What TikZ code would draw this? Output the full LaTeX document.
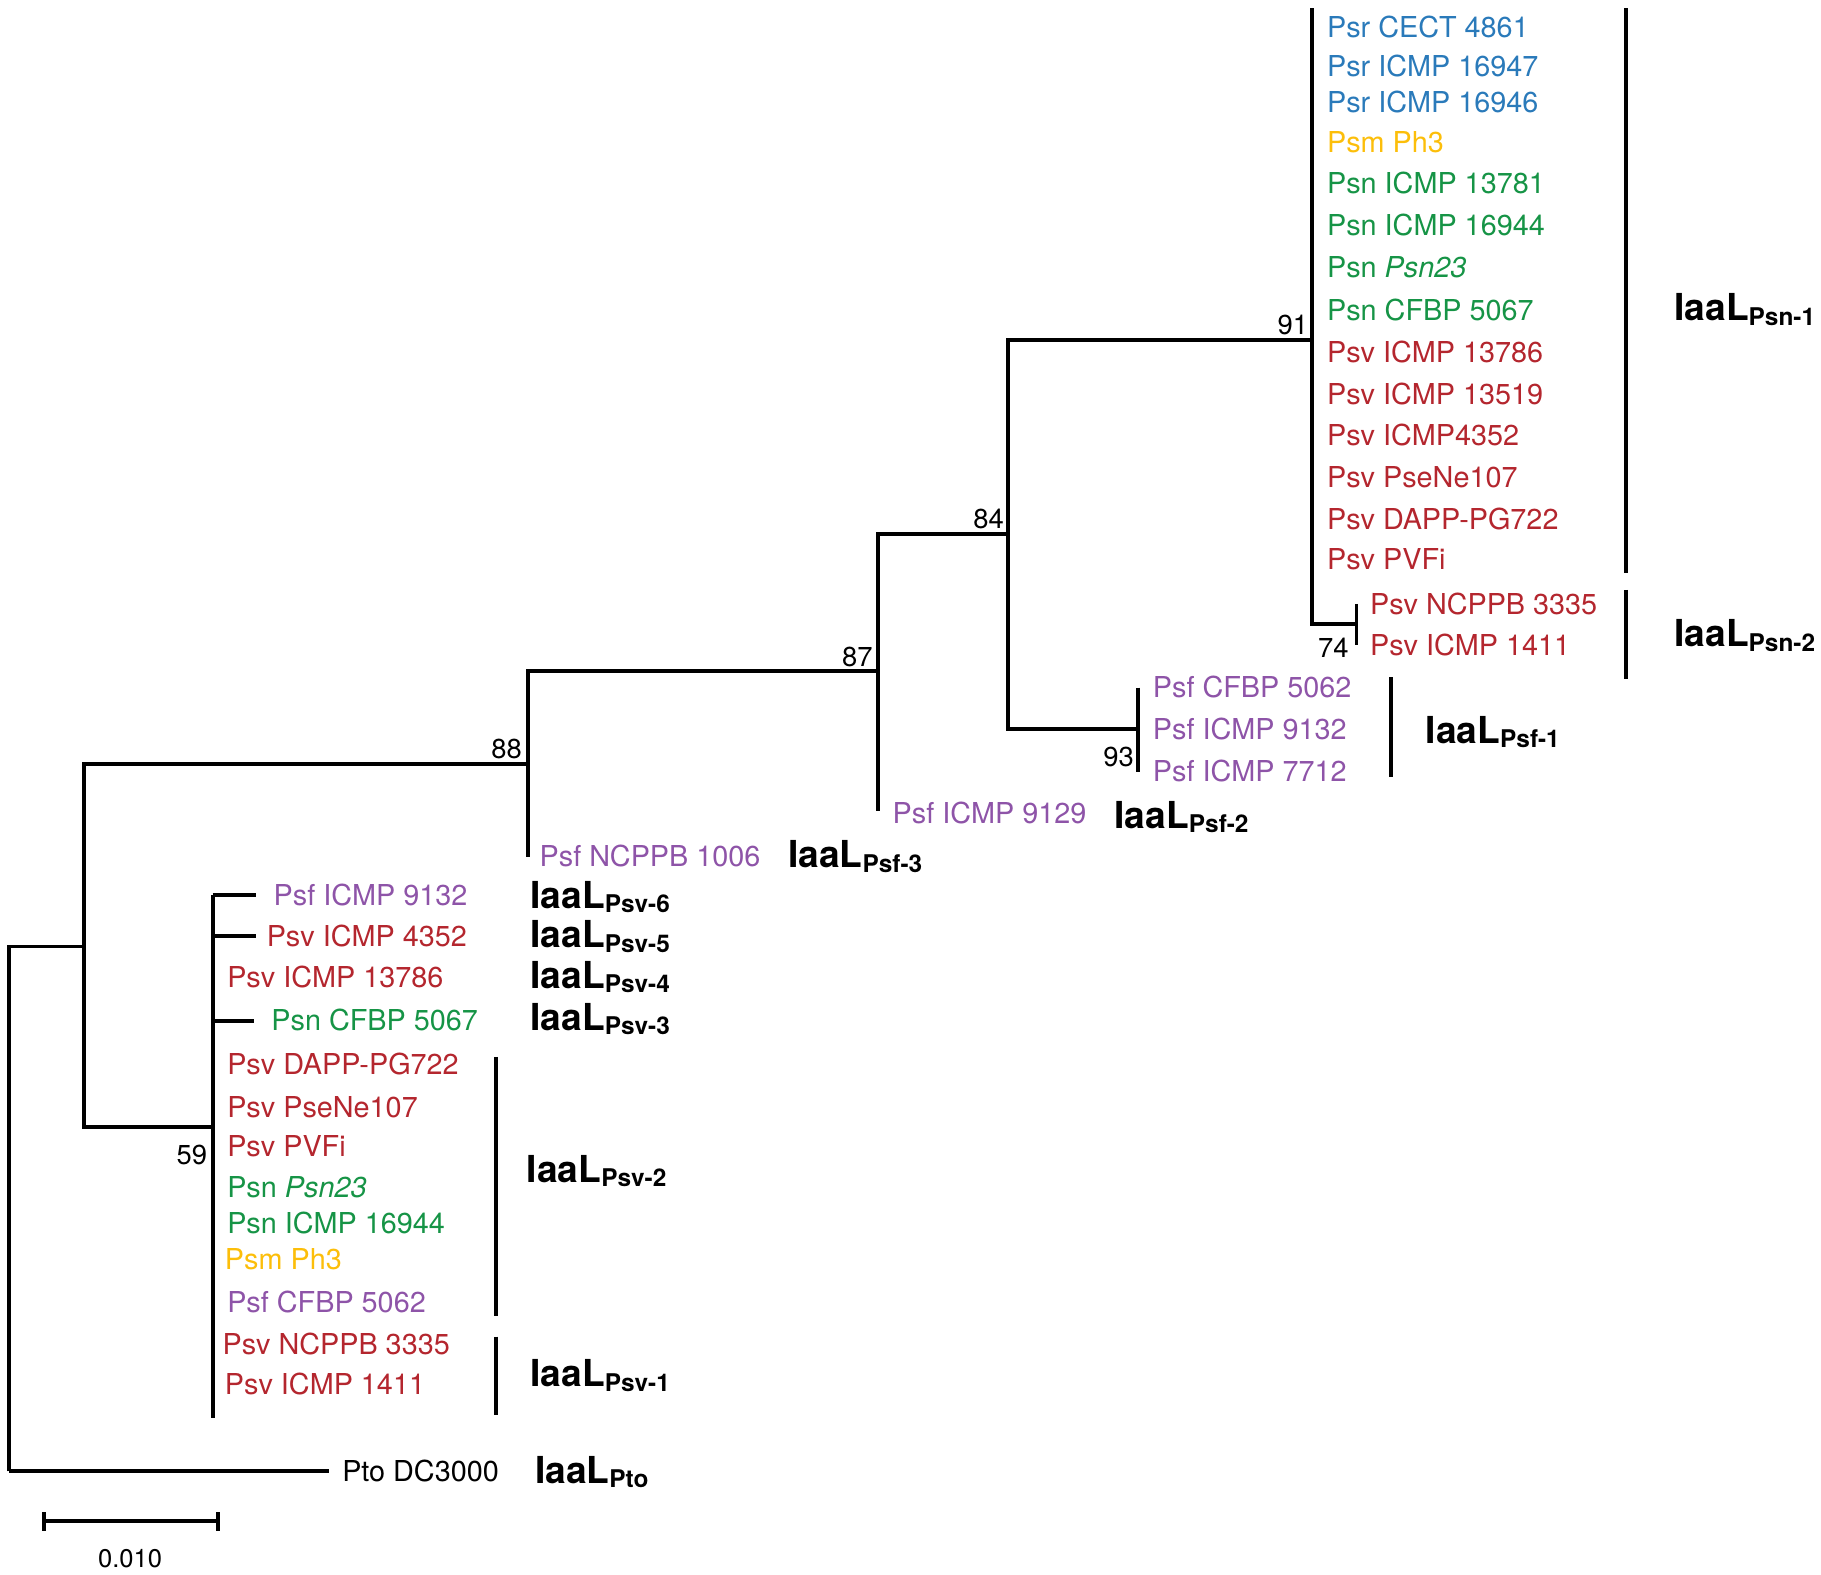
\documentclass[tikz,border=0pt]{standalone}
\usepackage{fontspec}
\setmainfont{TeX Gyre Heros}
\definecolor{psr}{RGB}{42,122,186}
\definecolor{psm}{RGB}{252,190,10}
\definecolor{psn}{RGB}{22,148,70}
\definecolor{psv}{RGB}{180,38,46}
\definecolor{psf}{RGB}{142,84,168}
\newcommand{\iaal}[1]{{\fontsize{16}{18}\selectfont\bfseries IaaL}\raisebox{-2pt}{\fontsize{10.5}{12}\selectfont\bfseries #1}}
\begin{document}
\begin{tikzpicture}[x=0.5pt,y=-0.5pt,line width=1.7pt,font=\fontsize{12.4}{14}\selectfont,
	leaf/.style={anchor=base west,inner sep=0pt},
	boot/.style={anchor=base east,inner sep=0pt,font=\fontsize{11.8}{13}\selectfont},
	grp/.style={anchor=base west,inner sep=0pt}]
	\useasboundingbox (0,0) rectangle (1568,1356);
	% branch points
	\coordinate (root) at (8,1267);
	\coordinate (na) at (72,815);
	\coordinate (n59) at (183,970);
	\coordinate (n88) at (455,658);
	\coordinate (n87) at (756,578);
	\coordinate (n84) at (868,460);
	\coordinate (n91) at (1130,293);
	\coordinate (t91) at (1130,7);
	\coordinate (n74) at (1168,537);
	\coordinate (n93) at (980,628);
	\coordinate (pto) at (283,1267);
	\coordinate (psf3) at (455,738);
	\coordinate (psf2) at (756,698);
	% tree
	\draw (root) |- (na);
	\draw (root) -- (pto);
	\draw (na) |- (n88);
	\draw (na) |- (n59);
	\draw (n88) -- (psf3);
	\draw (n88) |- (n87);
	\draw (n87) -- (psf2);
	\draw (n87) |- (n84);
	\draw (n84) |- (n91);
	\draw (n84) |- (n93);
	\draw (t91) -- (n91) |- (n74);
	\draw (1168,520)--(1168,555);
	\draw (980,592)--(980,665);
	\draw (183,771)--(183,1221);
	\draw (183,771)--(220,771) (183,806)--(220,806) (183,879)--(219,879);
	% bootstrap values
	\node[boot] (b91) at (1128,288) {91};
	\node[boot] (b84) at (866,455) {84};
	\node[boot] (b87) at (753,574) {87};
	\node[boot] (b88) at (451,653) {88};
	\node[boot] (b93) at (978,660) {93};
	\node[boot] (b74) at (1163,566) {74};
	\node[boot] (b59) at (180,1003) {59};
	% Psn-1 clade
	\foreach \y/\c/\t [count=\i] in {32/psr/Psr CECT 4861,66/psr/Psr ICMP 16947,97/psr/Psr ICMP 16946,131/psm/Psm Ph3,
		167/psn/Psn ICMP 13781,203/psn/Psn ICMP 16944,239/psn/Psn \textit{Psn23},276/psn/Psn CFBP 5067,
		312/psv/Psv ICMP 13786,348/psv/Psv ICMP 13519,384/psv/Psv ICMP4352,420/psv/Psv PseNe107,
		456/psv/Psv DAPP-PG722,490/psv/Psv PVFi}
		\node[leaf,text=\c] (r\i) at (1141,\y) {\t};
	\node[leaf,text=psv] (r15) at (1178,529) {Psv NCPPB 3335};
	\node[leaf,text=psv] (r16) at (1178,564) {Psv ICMP 1411};
	\node[leaf,text=psf] (f1) at (991,601) {Psf CFBP 5062};
	\node[leaf,text=psf] (f2) at (991,637) {Psf ICMP 9132};
	\node[leaf,text=psf] (f3) at (991,673) {Psf ICMP 7712};
	\node[leaf,text=psf] (f4) at (767,709) {Psf ICMP 9129};
	\node[leaf,text=psf] (f5) at (463,746) {Psf NCPPB 1006};
	% Psv clade
	\foreach \x/\y/\c/\t [count=\i] in {234/780/psf/Psf ICMP 9132,228/815/psv/Psv ICMP 4352,194/850/psv/Psv ICMP 13786,
		232/887/psn/Psn CFBP 5067,194/925/psv/Psv DAPP-PG722,194/962/psv/Psv PseNe107,194/996/psv/Psv PVFi,
		194/1031/psn/Psn \textit{Psn23},194/1062/psn/Psn ICMP 16944,192/1093/psm/Psm Ph3,194/1130/psf/Psf CFBP 5062,
		190/1166/psv/Psv NCPPB 3335,192/1201/psv/Psv ICMP 1411}
		\node[leaf,text=\c] (l\i) at (\x,\y) {\t};
	\node[leaf] (l14) at (293,1276) {Pto DC3000};
	% brackets
	\draw (1400,7)--(1400,493) (1400,508)--(1400,585) (1198,583)--(1198,669);
	\draw (427,910)--(427,1133) (427,1151)--(427,1218);
	% groups
	\node[grp] (gpsn1) at (1440,276) {\iaal{Psn-1}};
	\node[grp] (gpsn2) at (1440,557) {\iaal{Psn-2}};
	\node[grp] (gpsf1) at (1226,640) {\iaal{Psf-1}};
	\node[grp] (gpsf2) at (958,713) {\iaal{Psf-2}};
	\node[grp] (gpsf3) at (677,747) {\iaal{Psf-3}};
	\node[grp] (gpsv6) at (455,782) {\iaal{Psv-6}};
	\node[grp] (gpsv5) at (455,816) {\iaal{Psv-5}};
	\node[grp] (gpsv4) at (455,851) {\iaal{Psv-4}};
	\node[grp] (gpsv3) at (455,887) {\iaal{Psv-3}};
	\node[grp] (gpsv2) at (452,1018) {\iaal{Psv-2}};
	\node[grp] (gpsv1) at (455,1194) {\iaal{Psv-1}};
	\node[grp] (gpto) at (459,1277) {\iaal{Pto}};
	% scale bar
	\coordinate (s1) at (38,1310);
	\coordinate (s2) at (188,1310);
	\draw (s1) -- (s2);
	\draw (38,1302)--(38,1318) (188,1302)--(188,1318);
	\node[anchor=base,inner sep=0pt,font=\fontsize{11}{13}\selectfont] (sbl) at (112,1350) {0.010};
\end{tikzpicture}
\end{document}
